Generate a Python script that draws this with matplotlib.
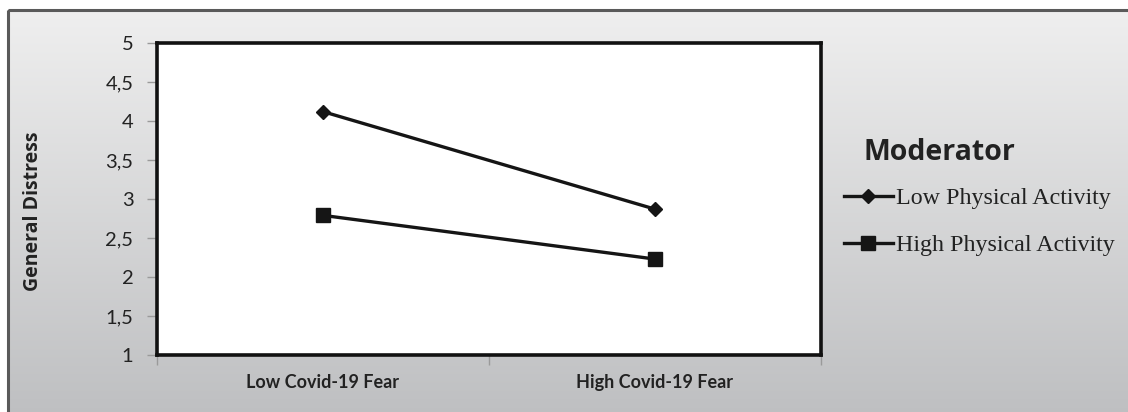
import numpy as np
import matplotlib.pyplot as plt
from matplotlib.patches import Rectangle

# data
categories = ['Low Covid-19 Fear', 'High Covid-19 Fear']
low_pa = [4.12, 2.87]
high_pa = [2.79, 2.23]
y_ticks = [1, 1.5, 2, 2.5, 3, 3.5, 4, 4.5, 5]
y_tick_labels = ['1', '1,5', '2', '2,5', '3', '3,5', '4', '4,5', '5']

W, H = 1128, 412
fig = plt.figure(figsize=(W / 100, H / 100), dpi=100)

# gradient background of the chart area (cropped on right and bottom)
bg = fig.add_axes([0, 0, 1, 1], zorder=-10)
bg.set_xlim(0, W)
bg.set_ylim(H, 0)
bg.axis('off')
grad = np.linspace(0, 1, 256)[:, None]
top = np.array([0.937, 0.937, 0.937])
bot = np.array([0.745, 0.749, 0.757])
img = top + (bot - top) * grad[:, :, None]
img = np.repeat(img, 2, axis=1)
bg.imshow(img, extent=[8, W + 5, H + 5, 10], aspect='auto', zorder=0)
bg.add_patch(Rectangle((8, 10), W + 20, H + 20, fill=False,
                       edgecolor='#5a5a5a', lw=2.2, zorder=1))

ax = fig.add_axes([157 / W, (H - 355) / H, 664 / W, 312 / H])
ax.set_facecolor('white')
x = np.arange(len(categories))

ax.plot(x, low_pa, color='#151515', lw=2.4, marker='D', markersize=7,
        label='Low Physical Activity')
ax.plot(x, high_pa, color='#151515', lw=2.4, marker='s', markersize=10,
        label='High Physical Activity')

ax.set_xlim(-0.5, 1.5)
ax.set_ylim(1, 5)
ax.set_yticks(y_ticks)
ax.set_yticklabels(y_tick_labels, fontfamily='Lato', fontsize=14.5, color='#222222')
ax.set_xticks([-0.5, 0.5, 1.5])
ax.set_xticklabels([])
ax.set_xticks(x, minor=True)
ax.set_xticklabels(categories, minor=True, fontfamily='Lato',
                   fontweight='bold', fontsize=13, color='#222222')
ax.tick_params(axis='x', which='minor', length=0, pad=14)
ax.tick_params(axis='both', which='major', direction='out', length=7,
               color='#9a9a9a', width=1)
ax.tick_params(axis='y', pad=10)
for side in ['top', 'right', 'left', 'bottom']:
    ax.spines[side].set_color('#111111')
    ax.spines[side].set_linewidth(2.6)

fig.text(33 / W, 1 - 211 / H, 'General Distress', rotation=90, ha='center',
         va='center', fontfamily='Open Sans', fontweight='bold', fontsize=14,
         color='#222222')

fig.text(864 / W, 1 - 153 / H, 'Moderator', ha='left', va='center',
         fontfamily='Open Sans', fontweight='bold', fontsize=20.5, color='#222222')

leg = fig.legend(loc='upper left', bbox_to_anchor=(834 / W, 1 - 178 / H),
                 frameon=False, handlelength=2.05, handletextpad=0.15,
                 labelspacing=1.05, borderaxespad=0,
                 prop={'family': 'Liberation Serif', 'size': 17.3})
for t in leg.get_texts():
    t.set_color('#222222')

fig.savefig('out.png', dpi=100)
